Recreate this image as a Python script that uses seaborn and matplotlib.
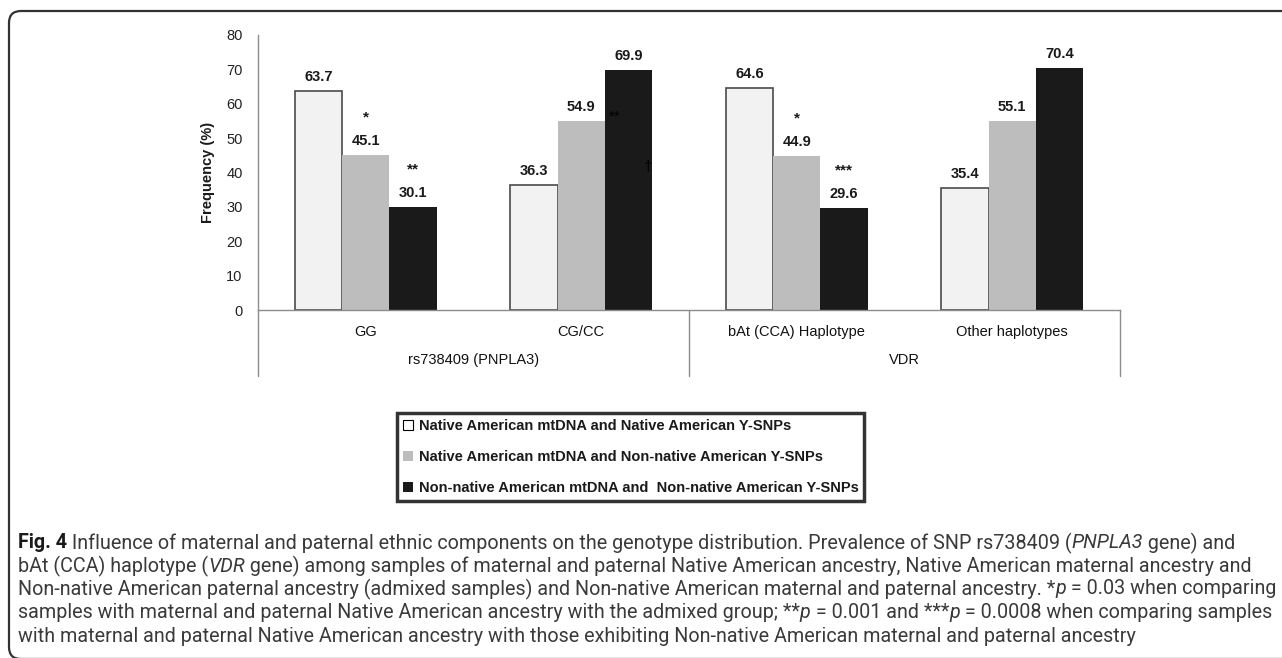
import matplotlib
matplotlib.use("Agg")
import matplotlib.pyplot as plt
from matplotlib.patches import Patch, FancyBboxPatch
import seaborn as sns
import pandas as pd

# ---- data -------------------------------------------------------------
categories = ["GG", "CG/CC", "bAt (CCA) Haplotype", "Other haplotypes"]
groups = ["rs738409 (PNPLA3)", "VDR"]
series = [
    "Native American mtDNA and Native American Y-SNPs",
    "Native American mtDNA and Non-native American Y-SNPs",
    "Non-native American mtDNA and  Non-native American Y-SNPs",
]
native_native = [63.7, 36.3, 64.6, 35.4]
native_nonnative = [45.1, 54.9, 44.9, 55.1]
nonnative_nonnative = [30.1, 69.9, 29.6, 70.4]
yticks = [0, 10, 20, 30, 40, 50, 60, 70, 80]

# significance marks: (category, series index, text)
sig_marks = [
    ("GG", 1, "*"),
    ("GG", 2, "**"),
    ("bAt (CCA) Haplotype", 1, "*"),
    ("bAt (CCA) Haplotype", 2, "***"),
]
# stray marks next to the CG/CC bars: (category, series index, text, dx pt, dy pt)
stray_marks = [
    ("CG/CC", 1, "**", 24, 3),
    ("CG/CC", 2, "\u2020", 14, -70),
]

colors = ["#f2f2f2", "#bdbdbd", "#1a1a1a"]

df = pd.DataFrame({
    "category": categories * 3,
    "series": [s for s in series for _ in categories],
    "value": native_native + native_nonnative + nonnative_nonnative,
})

# ---- figure -------------------------------------------------------------
sns.set_style("white")
plt.rcParams["font.family"] = ["Liberation Sans", "DejaVu Sans"]

W, H = 1282, 658
fig = plt.figure(figsize=(W / 100, H / 100), dpi=100)
ax = fig.add_axes([258 / W, 1 - 310 / H, 862 / W, 275 / H])

sns.barplot(data=df, x="category", y="value", hue="series",
            order=categories, hue_order=series, palette=colors,
            saturation=1, width=0.66, ax=ax, legend=False)

for i, cont in enumerate(ax.containers):
    for p in cont:
        if i == 0:
            p.set_edgecolor("#4a4a4a")
            p.set_linewidth(1.2)
        else:
            p.set_edgecolor("none")
    ax.bar_label(cont, fmt="%.1f", padding=5, fontsize=10.5,
                 fontweight="bold", color="#1a1a1a")

def bar_top(cat, k):
    p = ax.containers[k][categories.index(cat)]
    return p.get_x() + p.get_width() / 2, p.get_height()

for cat, k, txt in sig_marks:
    x, y = bar_top(cat, k)
    ax.annotate(txt, (x, y), xytext=(0, 22), textcoords="offset points",
                ha="center", va="bottom", fontsize=11, fontweight="bold",
                color="#1a1a1a")

for cat, k, txt, dx, dy in stray_marks:
    x, y = bar_top(cat, k)
    ax.annotate(txt, (x, y), xytext=(dx, dy), textcoords="offset points",
                ha="center", va="center", fontsize=11, color="black")

ax.set_xlim(-0.5, len(categories) - 0.5)
ax.set_ylim(0, 80)
ax.set_yticks(yticks)
ax.set_xlabel("")
ax.set_ylabel("Frequency (%)", fontsize=10.5, fontweight="bold",
              color="#1a1a1a", labelpad=8)
for side in ("top", "right"):
    ax.spines[side].set_visible(False)
for side in ("left", "bottom"):
    ax.spines[side].set_color("#8c8c8c")
    ax.spines[side].set_linewidth(1.0)
ax.tick_params(axis="y", direction="out", length=5, width=1,
               color="#8c8c8c", labelsize=10.5, labelcolor="#222222", pad=6)
ax.tick_params(axis="x", length=0, labelsize=10.5, labelcolor="#111111", pad=11)

# two-level category axis: separators and group names
trans = ax.get_xaxis_transform()
for xb in (-0.5, 1.5, 3.5):
    ax.plot([xb, xb], [0, -0.24], transform=trans, color="#8c8c8c",
            lw=1.0, clip_on=False)
for gi, g in enumerate(groups):
    ax.text(2 * gi + 0.5, -0.183, g, transform=trans, ha="center",
            va="center", fontsize=10.5, color="#111111")

# legend
handles = [Patch(facecolor="white", edgecolor="black", linewidth=0.8),
           Patch(facecolor=colors[1], edgecolor="none"),
           Patch(facecolor=colors[2], edgecolor="none")]
leg = fig.legend(handles, series, loc="center",
                 bbox_to_anchor=(630.5 / W, 1 - 457 / H),
                 prop={"size": 10.5, "weight": "bold"},
                 handlelength=0.7, handleheight=0.7, handletextpad=0.4,
                 labelspacing=1.15, borderpad=0.4, fancybox=False,
                 frameon=True, borderaxespad=0)
leg.get_frame().set_edgecolor("black")
leg.get_frame().set_linewidth(2.5)
for t in leg.get_texts():
    t.set_color("#1a1a1a")

# outer rounded frame
frame = FancyBboxPatch((0.09, -0.01), 13.5, 6.48,
                       boxstyle="round,pad=0,rounding_size=0.12",
                       transform=fig.dpi_scale_trans, facecolor="none",
                       edgecolor="#333333", linewidth=1.6, clip_on=False)
fig.patches.append(frame)

# caption
cap_lines = [
    [("Fig. 4", "b"), (" Influence of maternal and paternal ethnic components on the genotype distribution. Prevalence of SNP rs738409 (", "n"),
     ("PNPLA3", "i"), (" gene) and", "n")],
    [("bAt (CCA) haplotype (", "n"), ("VDR", "i"),
     (" gene) among samples of maternal and paternal Native American ancestry, Native American maternal ancestry and", "n")],
    [("Non-native American paternal ancestry (admixed samples) and Non-native American maternal and paternal ancestry. *", "n"),
     ("p", "i"), (" = 0.03 when comparing", "n")],
    [("samples with maternal and paternal Native American ancestry with the admixed group; **", "n"), ("p", "i"),
     (" = 0.001 and ***", "n"), ("p", "i"), (" = 0.0008 when comparing samples", "n")],
    [("with maternal and paternal Native American ancestry with those exhibiting Non-native American maternal and paternal ancestry", "n")],
]
cap_y = [543, 566, 589, 613, 636]
cap_font = ["Roboto", "DejaVu Sans"]
renderer = fig.canvas.get_renderer()

def run_props(style, size):
    d = {"fontsize": size, "family": cap_font, "color": "#3a3a3a"}
    if style == "b":
        d.update(fontweight="bold", color="#1a1a1a")
    elif style == "i":
        d.update(fontstyle="italic")
    return d

def draw_line(line, yy, size):
    x = 18.0
    texts = []
    for s, st in line:
        t = fig.text(x / W, 1 - yy / H, s, va="center", ha="left",
                     **run_props(st, size))
        x = t.get_window_extent(renderer).x1
        texts.append(t)
    return x, texts

# size the caption so its widest line ends at the right margin
widest = 0.0
for line in cap_lines:
    end, probe = draw_line(line, 0, 12)
    for t in probe:
        t.remove()
    widest = max(widest, end - 18)
cap_size = 12 * (1270 - 18) / widest

for line, yy in zip(cap_lines, cap_y):
    draw_line(line, yy, cap_size)

fig.savefig("out.png", dpi=100)
